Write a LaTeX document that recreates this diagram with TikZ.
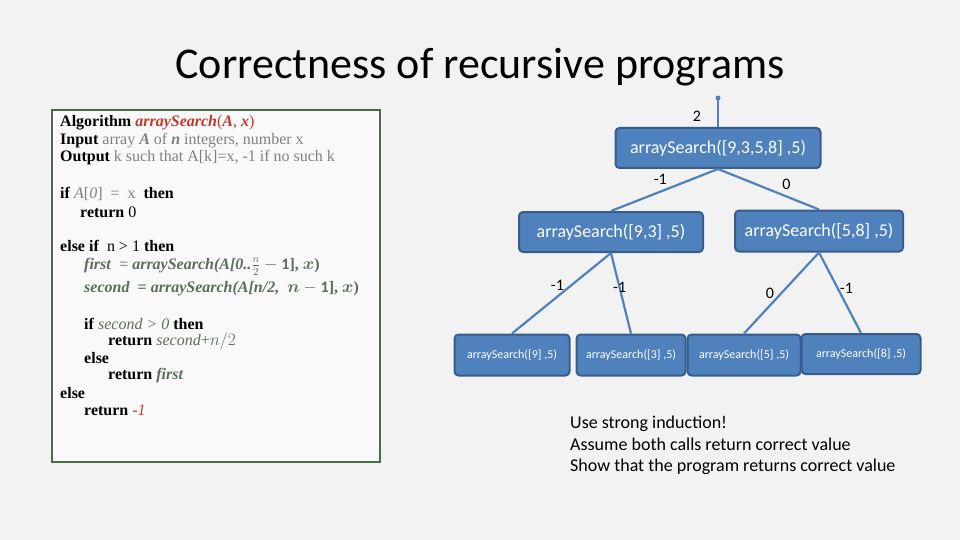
\documentclass[tikz,border=0pt]{standalone}
\usepackage{amsmath}
\usepackage{bm}
\usepackage{fontspec}
\setmainfont{Carlito}
\newfontfamily\algfont{Liberation Serif}
\usetikzlibrary{positioning}
\definecolor{boxblue}{RGB}{79,129,189}
\definecolor{boxedge}{RGB}{56,93,138}
\definecolor{algred}{RGB}{192,57,43}
\definecolor{alggreen}{RGB}{90,110,90}
\tikzset{
  call/.style={draw=boxedge, fill=boxblue, line width=2pt, rounded corners=4pt,
    text=white, inner sep=0pt},
  edge/.style={draw=boxblue, line width=2.2pt},
  val/.style={font=\fontsize{16}{18}\selectfont},
  alg/.style={anchor=west, font=\algfont\fontsize{16}{17}\selectfont, inner sep=0pt}
}
\begin{document}
\begin{tikzpicture}[x=1pt,y=-1pt]
\fill[gray!10] (0,0) rectangle (960,540);
\useasboundingbox (0,0) rectangle (960,540);

\node at (480,67) {\fontsize{44}{48}\selectfont Correctness of recursive programs};

% algorithm
\draw[fill=gray!5, draw=gray!80!green!70!black, line width=1.5pt] (52,110) rectangle (380,462);
\node[alg] (l1) at (60,123) {\textbf{Algorithm} \textcolor{algred}{\textbf{\textit{arraySearch}}(\textbf{\textit{A}}, \textbf{\textit{x}})}};
\node[alg] (l2) at (60,141) {\textbf{Input} \textcolor{gray}{array \textbf{\textit{A}} of \textbf{\textit{n}} integers, number x}};
\node[alg] (l3) at (60,158) {\textbf{Output} \textcolor{gray}{k such that A[k]=x, -1 if no such k}};
\node[alg] (l4) at (60,194) {\textbf{if} \textcolor{gray}{\textit{A}[\textit{0}] \ = \ x} \ \textbf{then}};
\node[alg] (l5) at (80,212) {\textbf{return} 0};
\node[alg] (l6) at (60,246) {\textbf{else if} \ n > 1 \textbf{then}};
\node[alg] (l7) at (84,267) {\textcolor{alggreen}{\textbf{\textit{first}} \ = \textbf{\textit{arraySearch(A[0..}}$\frac{n}{2}-\mathbf{1}$\textbf{], }$\bm{x}$\textbf{)}}};
\node[alg] (l8) at (84,289) {\textcolor{alggreen}{\textbf{\textit{second} \ = \textit{arraySearch(A[n/2,}} \ $\bm{n}-\mathbf{1}$\textbf{], }$\bm{x}$\textbf{)}}};
\node[alg] (l9) at (84,324) {\textbf{if} \textcolor{alggreen}{\textit{second > 0}} \textbf{then}};
\node[alg] (l10) at (108,341) {\textbf{return} \textcolor{alggreen}{\textit{second}+$n/2$}};
\node[alg] (l11) at (84,358) {\textbf{else}};
\node[alg] (l12) at (108,376) {\textbf{return} \textcolor{alggreen}{\textbf{\textit{first}}}};
\node[alg] (l13) at (60,393) {\textbf{else}};
\node[alg] (l14) at (84,410) {\textbf{return} \textcolor{algred}{\textit{-1}}};

% recursion tree
\node[call, minimum width=205pt, minimum height=40pt, font=\fontsize{18}{20}\selectfont] (top) at (718,148) {arraySearch([9,3,5,8] ,5)};
\node[call, minimum width=184pt, minimum height=40pt, font=\fontsize{18}{20}\selectfont] (left) at (611,232) {arraySearch([9,3] ,5)};
\node[call, minimum width=168pt, minimum height=41pt, font=\fontsize{18}{20}\selectfont] (right) at (819,231) {arraySearch([5,8] ,5)};
\node[call, minimum width=115pt, minimum height=41pt, font=\fontsize{12}{14}\selectfont] (b1) at (512,355) {arraySearch([9] ,5)};
\node[call, minimum width=109pt, minimum height=41pt, font=\fontsize{12}{14}\selectfont] (b2) at (631,355) {arraySearch([3] ,5)};
\node[call, minimum width=113pt, minimum height=41pt, font=\fontsize{12}{14}\selectfont] (b3) at (744,355) {arraySearch([5] ,5)};
\node[call, minimum width=119pt, minimum height=40pt, font=\fontsize{12}{14}\selectfont] (b4) at (861,354) {arraySearch([8] ,5)};

\coordinate (ret) at (718,98);
\draw[edge] (top.north) -- (ret);
\fill[boxblue] (ret) circle (2.5pt);
\node[val] (v0) at (697,116) {2};

\draw[edge] (top.south) -- (left.north) node[val, pos=0.45, above left=-2pt] {-1};
\draw[edge] (top.south) -- (right.north) node[val, pos=0.6, above right=-1pt] {0};
\draw[edge] (left.south) -- (b1.north) node[val, pos=0.4, left=3pt] {-1};
\draw[edge] (left.south) -- (b2.north) node[val, pos=0.43] {-1};
\draw[edge] (right.south) -- (b3.north) node[val, pos=0.5, left=3pt] {0};
\draw[edge] (right.south) -- (b4.north) node[val, pos=0.44, right=-2pt] {-1};

\node[anchor=north west, align=left, inner sep=0pt, font=\fontsize{18}{21.5}\selectfont] (note) at (570,416)
  {Use strong induction!\\Assume both calls return correct value\\Show that the program returns correct value};
\end{tikzpicture}
\end{document}
